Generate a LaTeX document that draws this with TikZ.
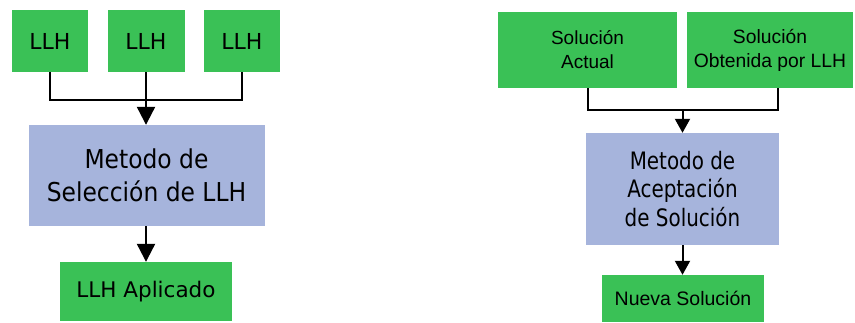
\documentclass[tikz,border=0pt]{standalone}
\usepackage{fontspec}
\setmainfont{DejaVu Sans}
% slightly narrowed humanist sans for the process boxes
\newfontfamily\lfont[FakeStretch=0.9]{DejaVu Sans}
\newfontfamily\rfont[FakeStretch=0.83]{DejaVu Sans}
% grotesque sans for the solution boxes
\newfontfamily\afont{Liberation Sans}
\usetikzlibrary{arrows.meta}
\definecolor{boxgreen}{RGB}{58,193,86}
\definecolor{boxblue}{RGB}{166,180,220}
\tikzset{
  box/.style={rectangle, inner sep=0pt, align=center, text=black},
  greenbox/.style={box, fill=boxgreen},
  bluebox/.style={box, fill=boxblue},
  link/.style={draw=black, line width=2.2pt},
  bigarrow/.style={link, -{Triangle[length=18pt,width=18pt]}},
  smallarrow/.style={draw=black, line width=2pt, -{Triangle[length=14pt,width=15pt]}},
  slink/.style={draw=black, line width=2pt},
}
\begin{document}
\begin{tikzpicture}[x=1pt,y=-1pt]
\useasboundingbox (0,0) rectangle (855,322);

% left flow: choosing a low-level heuristic
\node[greenbox, minimum width=76pt, minimum height=62pt, font=\fontsize{22}{26}\selectfont] (l1) at (50,41) {LLH};
\node[greenbox, minimum width=77pt, minimum height=62pt, font=\fontsize{22}{26}\selectfont] (l2) at (146,41) {LLH};
\node[greenbox, minimum width=76pt, minimum height=62pt, font=\fontsize{22}{26}\selectfont] (l3) at (242,41) {LLH};
\node[bluebox, minimum width=236pt, minimum height=101pt, font=\lfont\fontsize{26}{33}\selectfont] (lm) at (146.5,175.5) {Metodo de\\Selección de LLH};
\node[greenbox, minimum width=172pt, minimum height=59pt, font=\fontsize{21.5}{25}\selectfont] (lb) at (146,291.5) {LLH Aplicado};

\coordinate (lj) at (146,100);
\draw[link] (l1.south) |- (lj);
\draw[link] (l3.south) |- (lj);
\draw[bigarrow] (l2.south) -- (l2.south |- lm.north);
\draw[bigarrow] (lb.north |- lm.south) -- (lb.north);

% right flow: accepting a solution
\node[greenbox, minimum width=179pt, minimum height=76pt, font=\afont\fontsize{19}{24}\selectfont] (r1) at (587.5,50) {Solución\\Actual};
\node[greenbox, minimum width=166pt, minimum height=76pt, font=\afont\fontsize{19.3}{24}\selectfont] (r2) at (770,50) {Solución\\Obtenida por LLH};
\node[bluebox, minimum width=193pt, minimum height=112pt, font=\rfont\fontsize{24}{28.3}\selectfont] (rm) at (682.5,189) {Metodo de\\Aceptación\\de Solución};
\node[greenbox, minimum width=162pt, minimum height=47pt, font=\afont\fontsize{19.5}{22}\selectfont] (rb) at (683,298.5) {Nueva Solución};

\coordinate (rj) at (682.5,110);
\coordinate (r2b) at (778,88);
\draw[slink] (r1.south) |- (rj);
\draw[slink] (r2b) |- (rj);
\draw[smallarrow] (rj) -- (rm.north);
\draw[smallarrow] (rm.south) -- (rm.south |- rb.north);
\end{tikzpicture}
\end{document}
